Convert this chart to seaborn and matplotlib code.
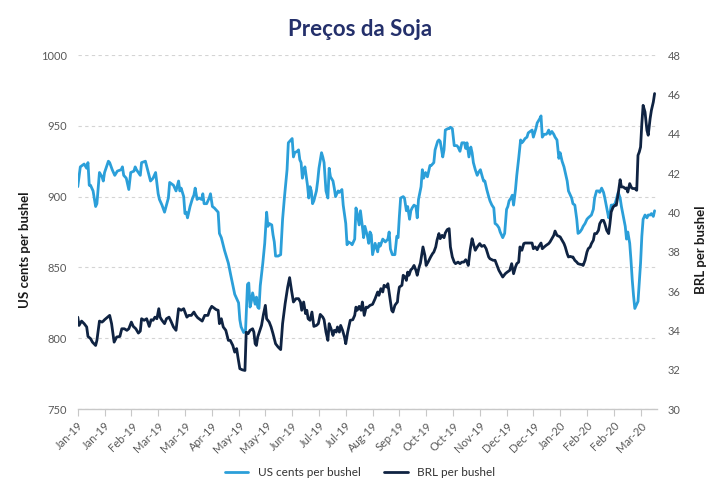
import numpy as np
import pandas as pd
import matplotlib
matplotlib.use("Agg")
import matplotlib.pyplot as plt
import matplotlib.dates as mdates
import seaborn as sns

# ── Data ─────────────────────────────────────────────────────────────────────
START = pd.Timestamp("2019-01-01")

# days since 1 Jan 2019 / soybean price in US cents per bushel
us_days = [
    0, 2, 5, 7, 8, 9, 10, 12, 14, 15, 17, 19, 20, 21, 24, 25, 27, 29, 31, 34,
    35, 36, 38, 40, 41.5, 44, 45, 46, 49, 50, 53, 55, 57, 59, 61, 63, 64, 66, 68, 71,
    72, 75, 77, 79, 80, 81, 83, 84, 85, 86, 88, 90, 91, 92, 93.5, 95, 97, 98, 99, 101,
    103, 104, 105.5, 107, 110, 111, 112.5, 115, 118, 120, 123, 126, 127, 128, 130, 131.5, 133, 134, 135, 136,
    137, 139, 140, 141, 142, 143, 145, 146.5, 148, 149, 150, 152, 153, 154, 155, 157, 159, 160.5, 162, 164,
    165, 167, 168, 169, 170, 172, 173, 174, 175, 176, 177, 178, 180, 181, 182, 183, 184, 185, 187, 188,
    189, 191, 192, 193, 194.5, 196, 197, 198, 200, 201, 202, 204, 205, 207, 208, 210, 211, 212, 214, 215,
    217, 218, 219, 220.5, 221.5, 223, 224, 225, 227, 228, 229, 230, 231, 233, 235, 236, 237, 239, 241, 243,
    244, 245, 246.5, 248.5, 250, 251, 252, 253, 255, 256, 257.5, 258.5, 260, 261, 262, 263.5, 265, 266, 267, 269,
    270, 271, 272.5, 274, 276, 277, 279, 280, 282, 283, 284, 286, 287, 288, 290, 291, 292, 293.5, 295, 297,
    298, 299.5, 301, 303, 304, 305, 306.5, 308, 309, 310, 311.5, 313, 314, 315.5, 317, 318, 319, 320.5, 322, 323,
    324.5, 326, 327, 328.5, 330, 331, 333, 334.5, 336, 337, 338, 339.5, 340.5, 341.5, 343, 344, 345.5, 347, 348, 349,
    350.5, 352, 353, 354.5, 356, 357, 358, 359, 360, 362, 363, 364, 365.5, 367, 368, 369, 370, 371.5, 373, 374,
    375.5, 377, 378, 379.5, 381, 382, 383.5, 384.5, 386, 387, 388, 389.5, 391, 392, 393.5, 395, 396, 397.5, 399, 400,
    402.5, 404, 405, 406.5, 408, 409, 410.5, 412, 413, 414.5, 416, 417, 418, 419.5, 421, 422, 423.5, 425, 426, 427.5,
    429, 430, 431, 432.5, 433.5, 434.5, 435.5, 436.5, 438, 439, 440, 441, 442, 443, 444.5, 446, 447, 448.5, 449.5, 451,
    452,
]
us_cents = [
    907, 921, 923, 920, 924, 908, 908, 904, 893, 895, 917, 914, 911, 917, 925, 924, 919, 915, 918, 919,
    921, 915, 913, 905, 917, 918, 921, 919, 915, 924, 925, 918, 911, 913, 917, 902, 898, 894, 889, 899,
    910, 908, 904, 911, 904, 906, 900, 888, 889, 885, 893, 899, 901, 906, 898, 899, 898, 902, 895, 895,
    899, 902, 893, 892, 889, 874, 871, 862, 853, 844, 831, 825, 813, 808, 804, 806, 838, 839, 822, 826,
    832, 824, 829, 822, 821, 837, 853, 867, 889, 879, 881, 880, 873, 868, 858, 858, 859, 884, 900, 919,
    938, 940, 941, 928, 931, 932, 933, 926, 924, 913, 918, 921, 908, 899, 907, 904, 895, 897, 904, 911,
    920, 931, 928, 924, 904, 899, 920, 914, 911, 906, 900, 904, 903, 905, 894, 881, 866, 868, 867, 866,
    870, 892, 888, 880, 890, 879, 871, 879, 872, 867, 875, 873, 859, 867, 861, 867, 865, 870, 868, 870,
    875, 863, 859, 859, 872, 871, 886, 899, 900, 899, 890, 893, 884, 890, 892, 894, 893, 885, 898, 907,
    919, 913, 917, 914, 922, 922, 924, 933, 939, 940, 939, 928, 933, 947, 948, 948, 949, 948, 936, 936,
    935, 932, 938, 938, 934, 938, 928, 935, 931, 924, 919, 915, 917, 919, 914, 911, 911, 905, 900, 897,
    894, 892, 881, 880, 878, 875, 871, 874, 891, 893, 897, 899, 901, 894, 905, 915, 927, 940, 938, 939,
    941, 942, 945, 946, 947, 942, 945, 948, 952, 955, 957, 942, 944, 944, 945, 947, 944, 946, 944, 942,
    940, 927, 931, 925, 921, 917, 911, 904, 901, 899, 895, 894, 884, 874, 875, 877, 879, 881, 884, 885,
    887, 891, 899, 904, 904, 903, 906, 903, 899, 892, 885, 888, 894, 894, 895, 898, 903, 899, 893, 886,
    879, 870, 875, 867, 855, 841, 830, 821, 824, 826, 839, 853, 872, 884, 887, 885, 887, 887, 888, 886,
    890,
]

# days since 1 Jan 2019 / soybean price in BRL per bushel
brl_days = [
    0, 1, 3, 5, 7, 8, 10, 11.5, 14, 15, 17, 19, 20, 21, 24, 25, 26.5, 28.5, 30.5, 33,
    34.5, 36.5, 38.5, 40, 42, 43.5, 45.5, 47.5, 49, 50, 52, 54, 56, 57.5, 59, 60.5, 62, 63.5, 64.5, 66,
    68, 69.5, 71.5, 73, 75, 77, 79, 81, 83, 84.5, 85.5, 87, 89, 91, 92.5, 94, 96, 97.5, 99.5, 102,
    103.5, 105, 106.5, 108.5, 110, 111, 112.5, 114, 116, 118, 119.5, 121.5, 123, 124.5, 125.5, 127, 129, 131, 132, 133.5,
    135, 137, 138, 139, 140, 141, 144, 145.5, 147, 148, 150, 151.5, 153, 155, 157, 159, 160.5, 162.5, 164.5, 166,
    167.5, 169, 171, 173, 174.5, 175.5, 177, 178.5, 179.5, 180.5, 182, 183.5, 185, 187, 188.5, 190, 192, 193, 194.5, 196,
    197, 198.5, 200, 201, 202.5, 203.5, 205, 206, 207.5, 209, 210, 211.5, 213.5, 215.5, 217, 218, 219, 220.5, 222, 223,
    224.5, 226, 227, 229, 231, 233, 235, 236, 237.5, 239, 240, 242, 243, 244.5, 246, 247, 248.5, 249.5, 250.5, 251,
    252, 254, 255, 256.5, 257.5, 258.5, 259.5, 261, 262, 263.5, 265, 266, 267.5, 268.5, 270.5, 272, 273, 274.5, 276.5, 278,
    279, 280.5, 281.5, 283, 284, 285.5, 287, 288, 289.5, 291, 292, 293.5, 295, 296, 298, 299.5, 301, 302.5, 304, 305,
    306, 307.5, 309, 310, 311.5, 313, 315, 316.5, 318.5, 320, 322, 323, 325.5, 327, 328.5, 330, 331.5, 333, 335, 336.5,
    338.5, 340, 341.5, 343, 344, 345.5, 346.5, 348, 349.5, 350.5, 353, 356, 357, 358.5, 360, 361, 363, 364, 365.5, 367,
    369, 370, 371.5, 373, 374, 375.5, 377, 378, 379.5, 381, 382, 383.5, 384.5, 386, 387, 388, 389.5, 391, 392, 393.5,
    395, 396, 397.5, 399, 400, 401.5, 402.5, 404, 405, 406.5, 408, 409, 410.5, 412, 413, 414.5, 416, 417, 418, 419.5,
    421, 422, 423.5, 425, 426, 427.5, 429, 430, 431, 432.5, 434, 435, 436.5, 438, 439, 440, 441, 442, 443, 444.5,
    446, 447, 448.5, 449.5, 451, 452,
]
brl_values = [
    34.67, 34.25, 34.47, 34.34, 34.17, 33.69, 33.58, 33.40, 33.23, 33.49, 34.47, 34.42, 34.47, 34.54, 34.71, 34.76, 34.34, 33.40, 33.66, 33.69,
    34.08, 34.08, 34.00, 34.08, 34.42, 34.20, 34.08, 33.86, 33.96, 34.59, 34.51, 34.59, 34.20, 34.54, 34.51, 34.67, 34.59, 35.10, 34.67, 34.51,
    34.34, 34.59, 34.67, 34.47, 34.17, 34.00, 35.10, 35.02, 35.10, 34.85, 34.67, 34.76, 34.76, 34.93, 34.76, 34.64, 34.54, 34.47, 34.76, 34.76,
    35.05, 35.22, 35.15, 35.05, 35.02, 34.34, 34.59, 34.17, 34.00, 33.49, 33.49, 33.23, 32.89, 33.07, 32.64, 32.05, 31.99, 31.96, 33.91, 33.83,
    34.00, 34.08, 33.91, 33.32, 33.23, 33.66, 34.25, 34.81, 35.27, 34.59, 34.42, 34.17, 33.83, 33.32, 33.15, 33.02, 34.34, 35.36, 36.20, 36.68,
    36.03, 35.44, 35.61, 35.61, 35.44, 35.02, 35.44, 34.85, 35.02, 34.59, 34.51, 34.93, 34.20, 34.25, 34.34, 34.81, 34.67, 34.54, 33.91, 33.49,
    34.34, 34.08, 33.74, 34.00, 33.91, 34.17, 33.91, 34.25, 34.00, 33.66, 33.32, 33.91, 34.51, 34.54, 34.76, 35.18, 35.02, 35.22, 35.02, 35.44,
    34.76, 35.18, 35.15, 35.27, 35.32, 35.61, 35.95, 35.78, 36.12, 35.95, 36.29, 36.20, 36.37, 35.69, 35.02, 34.93, 35.27, 35.36, 35.44, 35.78,
    36.20, 36.29, 36.80, 36.71, 36.54, 36.96, 36.80, 37.08, 37.13, 37.30, 37.05, 36.80, 37.22, 37.42, 38.24, 37.81, 37.30, 37.47, 37.73, 37.90,
    37.98, 38.24, 38.58, 38.92, 38.66, 38.83, 38.71, 38.95, 39.12, 39.17, 38.24, 37.73, 37.47, 37.39, 37.47, 37.39, 37.47, 37.47, 37.59, 37.47,
    37.30, 38.10, 38.66, 38.41, 38.07, 38.24, 38.41, 38.27, 38.32, 38.15, 37.73, 37.64, 37.56, 37.56, 37.30, 37.05, 36.88, 36.71, 36.88, 36.96,
    37.05, 37.39, 36.88, 37.22, 37.39, 37.47, 38.24, 38.07, 38.41, 38.44, 38.44, 38.44, 38.15, 38.24, 38.10, 38.24, 38.44, 38.15, 38.24, 38.32,
    38.41, 38.49, 38.66, 38.83, 39.05, 38.83, 38.78, 38.75, 38.58, 38.41, 38.24, 37.90, 37.73, 37.76, 37.73, 37.73, 37.56, 37.47, 37.39, 37.36,
    37.34, 37.30, 37.56, 37.98, 38.15, 38.24, 38.41, 38.58, 38.92, 38.92, 39.08, 39.42, 39.59, 39.59, 39.42, 39.08, 38.92, 39.42, 40.02, 40.27,
    40.36, 40.36, 40.95, 41.66, 41.29, 41.29, 41.21, 41.24, 41.03, 41.46, 41.24, 41.21, 41.21, 41.12, 42.90, 43.07, 43.32, 44.51, 45.44, 45.10,
    44.17, 43.92, 44.77, 45.19, 45.61, 46.04,
]

us_ticks = [750, 800, 850, 900, 950, 1000]
brl_ticks = [30, 32, 34, 36, 38, 40, 42, 44, 46, 48]
tick_dates = pd.date_range("2019-01-01", periods=22, freq="21D")

LIGHT = "#2B9FD9"
DARK = "#0F2342"
TEXT = "#595959"

# ── Frames ───────────────────────────────────────────────────────────────────
us_df = pd.DataFrame({"date": START + pd.to_timedelta(us_days, unit="D"), "value": us_cents})
brl_df = pd.DataFrame({"date": START + pd.to_timedelta(brl_days, unit="D"), "value": brl_values})

# ── Style ────────────────────────────────────────────────────────────────────
sns.set_theme(style="white")
plt.rcParams["font.family"] = ["Lato", "DejaVu Sans"]

fig = plt.figure(figsize=(7.2, 5.0), dpi=100)
ax = fig.add_axes([0.108, 0.182, 0.804, 0.708])
ax2 = ax.twinx()

sns.lineplot(data=us_df, x="date", y="value", ax=ax, color=LIGHT, lw=2.0,
             label="US cents per bushel", legend=False)
sns.lineplot(data=brl_df, x="date", y="value", ax=ax2, color=DARK, lw=2.0,
             label="BRL per bushel", legend=False)

# axes limits & ticks
ax.set_xlim(START, START + pd.Timedelta(days=453.6))
ax.set_ylim(750, 1000)
ax.set_yticks(us_ticks)
ax2.set_ylim(30, 48)
ax2.set_yticks(brl_ticks)

ax.set_xticks(tick_dates)
ax.xaxis.set_major_formatter(mdates.DateFormatter("%b-%y"))
plt.setp(ax.get_xticklabels(), rotation=45, ha="right", rotation_mode="anchor")

ax.tick_params(axis="x", length=5, width=0.8, color="#c8c8c8", labelsize=8,
               labelcolor=TEXT, pad=3, bottom=True)
ax.tick_params(axis="y", length=0, labelsize=8, labelcolor=TEXT, pad=8)
ax2.tick_params(axis="y", length=0, labelsize=8, labelcolor=TEXT, pad=8)

# grid & spines
ax.yaxis.grid(True, linestyle=(0, (3, 3)), color="#d4d4d4", lw=0.8)
ax.xaxis.grid(False)
ax2.grid(False)
for a in (ax, ax2):
    for side in ("top", "left", "right", "bottom"):
        a.spines[side].set_visible(False)
ax.spines["bottom"].set_visible(True)
ax.spines["bottom"].set_color("#c8c8c8")
ax.spines["bottom"].set_linewidth(1.0)

ax.set_xlabel("")
ax.set_ylabel("US cents per bushel", fontsize=9.5, fontweight="bold", color="#1a1a1a")
ax2.set_ylabel("BRL per bushel", fontsize=9.5, fontweight="bold", color="#1a1a1a", rotation=90)
ax.yaxis.set_label_coords(-0.081, 0.45)
ax2.yaxis.set_label_coords(1.067, 0.45)

# title
fig.text(0.5, 0.94, "Preços da Soja", ha="center", va="center",
         fontsize=16, fontweight="bold", color="#24306B")

# legend
h1, l1 = ax.get_legend_handles_labels()
h2, l2 = ax2.get_legend_handles_labels()
fig.legend(h1 + h2, l1 + l2, loc="center", bbox_to_anchor=(0.5, 0.054), ncol=2,
           frameon=False, fontsize=8.5, handlelength=2.0, columnspacing=2.0,
           labelcolor="#333333")

fig.savefig("out.png", dpi=100)
